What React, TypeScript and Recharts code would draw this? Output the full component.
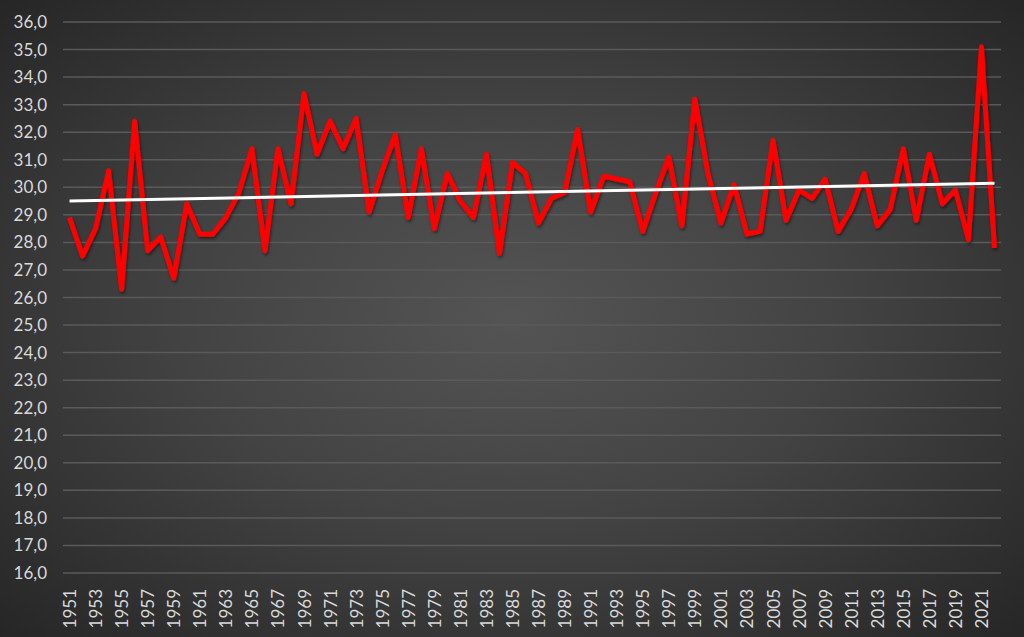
import { LineChart, Line, XAxis, YAxis, CartesianGrid, ReferenceLine } from "recharts";

const years = [
  "1951", "1952", "1953", "1954", "1955", "1956", "1957", "1958", "1959", "1960",
  "1961", "1962", "1963", "1964", "1965", "1966", "1967", "1968", "1969", "1970",
  "1971", "1972", "1973", "1974", "1975", "1976", "1977", "1978", "1979", "1980",
  "1981", "1982", "1983", "1984", "1985", "1986", "1987", "1988", "1989", "1990",
  "1991", "1992", "1993", "1994", "1995", "1996", "1997", "1998", "1999", "2000",
  "2001", "2002", "2003", "2004", "2005", "2006", "2007", "2008", "2009", "2010",
  "2011", "2012", "2013", "2014", "2015", "2016", "2017", "2018", "2019", "2020",
  "2021", "2022",
];

const temps = [
  28.9, 27.5, 28.5, 30.6, 26.3, 32.4, 27.7, 28.2, 26.7, 29.4,
  28.3, 28.3, 28.9, 29.8, 31.4, 27.7, 31.4, 29.4, 33.4, 31.2,
  32.4, 31.4, 32.5, 29.1, 30.6, 31.9, 28.9, 31.4, 28.5, 30.5,
  29.5, 28.9, 31.2, 27.6, 30.9, 30.5, 28.7, 29.6, 29.8, 32.1,
  29.1, 30.4, 30.3, 30.2, 28.4, 29.8, 31.1, 28.6, 33.2, 30.5,
  28.7, 30.1, 28.3, 28.4, 31.7, 28.8, 29.9, 29.6, 30.3, 28.4,
  29.2, 30.5, 28.6, 29.2, 31.4, 28.8, 31.2, 29.4, 29.9, 28.1,
  35.1, 27.8,
];

// trend line end points
const trendStart = 29.5;
const trendEnd = 30.15;

const yTicks = [16, 17, 18, 19, 20, 21, 22, 23, 24, 25, 26, 27, 28, 29, 30, 31, 32, 33, 34, 35, 36];

const data = years.map((y, i) => ({ year: y, temp: temps[i] }));

const FONT = "Lato, 'Open Sans', sans-serif";

function YearTick(props: any) {
  const { x, y, payload } = props;
  return (
    <text
      transform={`translate(${x},${y + 8}) rotate(-90)`}
      textAnchor="end"
      dominantBaseline="central"
      fill="#d9d9d9"
      fontSize={17}
      fontFamily={FONT}
    >
      {payload.value}
    </text>
  );
}

export default function App() {
  return (
    <div
      style={{
        position: "absolute",
        left: 0,
        top: 0,
        width: 1024,
        height: 637,
        background: "radial-gradient(ellipse at 50% 50%, #545454 0%, #434343 45%, #262626 100%)",
      }}
    >
      <LineChart
        width={1024}
        height={637}
        data={data}
        margin={{ top: 22, right: 23, left: 0, bottom: 0 }}
      >
        <defs>
          <filter id="shadow" x="-5%" y="-5%" width="110%" height="110%">
            <feDropShadow dx="1" dy="2" stdDeviation="1.5" floodColor="#000" floodOpacity="0.5" />
          </filter>
        </defs>
        <CartesianGrid vertical={false} stroke="#5a5a5a" strokeWidth={1.5} />
        <XAxis
          dataKey="year"
          interval={1}
          axisLine={false}
          tickLine={false}
          height={64}
          padding={{ left: 6.5, right: 6.5 }}
          tick={<YearTick />}
        />
        <YAxis
          domain={[16, 36]}
          ticks={yTicks}
          axisLine={false}
          tickLine={false}
          width={63}
          tickMargin={10}
          tick={{ fill: "#d9d9d9", fontSize: 17, fontFamily: FONT }}
          tickFormatter={(v: number) => v.toFixed(1).replace(".", ",")}
        />
        <Line
          type="linear"
          dataKey="temp"
          stroke="#ff0000"
          strokeWidth={5}
          strokeLinejoin="round"
          dot={false}
          filter="url(#shadow)"
          isAnimationActive={false}
        />
        <ReferenceLine
          segment={[
            { x: years[0], y: trendStart },
            { x: years[years.length - 1], y: trendEnd },
          ]}
          stroke="#ffffff"
          strokeWidth={3}
          ifOverflow="visible"
        />
      </LineChart>
    </div>
  );
}
